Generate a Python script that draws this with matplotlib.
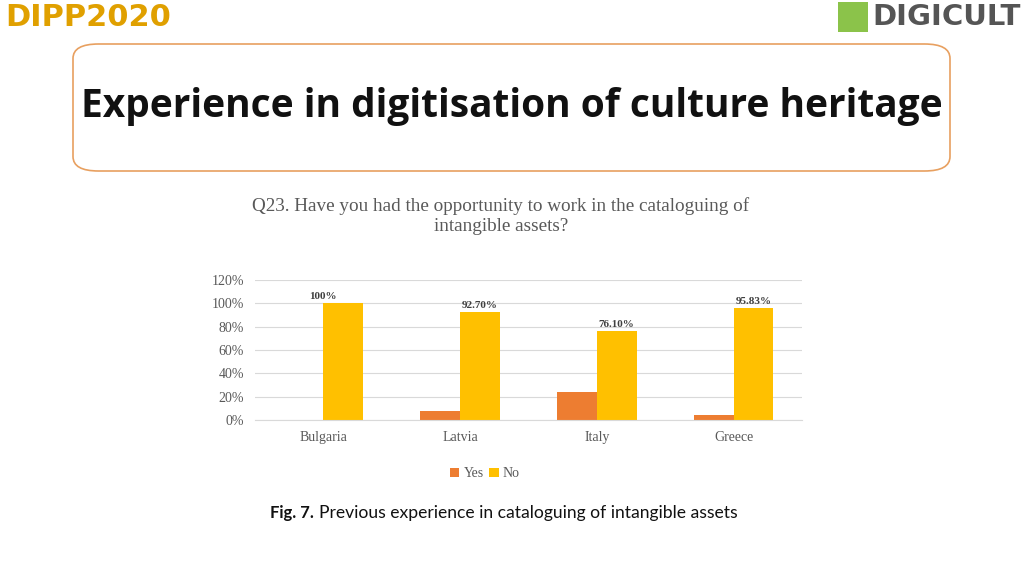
import numpy as np
import matplotlib
matplotlib.use("Agg")
import matplotlib.pyplot as plt
from matplotlib.patches import FancyBboxPatch, Rectangle

countries = ["Bulgaria", "Latvia", "Italy", "Greece"]
yes_vals = [0, 7.3, 23.9, 4.17]
no_vals = [100, 92.7, 76.1, 95.83]
no_labels = ["100%", "92.70%", "76.10%", "95.83%"]
yticks = [0, 20, 40, 60, 80, 100, 120]

fig = plt.figure(figsize=(10.24, 5.76), dpi=100)
fig.patch.set_facecolor("white")

# header box with title
box = FancyBboxPatch((73 / 1024, 1 - 171 / 576), 877 / 1024, 127 / 576,
                     boxstyle="round,pad=0,rounding_size=0.025",
                     transform=fig.transFigure, fc="white", ec="#E8A060", lw=1.2)
fig.patches.append(box)
fig.text(0.5, 1 - 106 / 576, "Experience in digitisation of culture heritage",
         ha="center", va="center", fontsize=28, fontweight="bold",
         family="Open Sans", color="#111111")

# logos as text
fig.text(0.005, 1 - 18 / 576, "DIPP2020", ha="left", va="center", fontsize=22,
         fontweight="bold", color="#E0A000", family="DejaVu Sans")
fig.patches.append(Rectangle((838 / 1024, 1 - 32 / 576), 30 / 1024, 30 / 576,
                             transform=fig.transFigure, fc="#8BC34A", ec="none"))
fig.text(872 / 1024, 1 - 17 / 576, "DIGICULT", ha="left", va="center", fontsize=21,
         fontweight="bold", color="#555555", family="DejaVu Sans")

# chart
ax = fig.add_axes([255 / 1024, 1 - 420 / 576, 547 / 1024, 140 / 576])
x = np.arange(len(countries))
w = 0.29
ax.bar(x - 0.145, yes_vals, w, color="#ED7D31", label="Yes")
ax.bar(x + 0.145, no_vals, w, color="#FFC000", label="No")
for xi, v, lab in zip(x, no_vals, no_labels):
    ax.text(xi + 0.145 - (0.15 if lab == "100%" else 0), v + 2, lab,
            ha="center", va="bottom", fontsize=8, fontweight="bold",
            family="Liberation Serif", color="#404040")
ax.set_xlim(-0.5, 3.5)
ax.set_ylim(0, 120)
ax.set_yticks(yticks)
ax.set_yticklabels([f"{t}%" for t in yticks])
ax.set_xticks(x)
ax.set_xticklabels(countries)
ax.grid(axis="y", color="#D9D9D9", lw=0.8)
ax.set_axisbelow(True)
for s in ["top", "right", "left"]:
    ax.spines[s].set_visible(False)
ax.spines["bottom"].set_color("#D9D9D9")
ax.tick_params(length=0, labelsize=10, colors="#595959", pad=8)
for t in ax.get_xticklabels() + ax.get_yticklabels():
    t.set_family("Liberation Serif")
fig.text(501 / 1024, 1 - 216 / 576,
         "Q23. Have you had the opportunity to work in the cataloguing of\nintangible assets?",
         ha="center", va="center", fontsize=13.8, family="Liberation Serif",
         color="#595959", linespacing=1.2)
ax.legend(loc="upper center", bbox_to_anchor=(0.42, -0.25), ncol=2, frameon=False,
          prop={"family": "Liberation Serif", "size": 10}, handlelength=0.7,
          handleheight=0.7, columnspacing=0.4, handletextpad=0.3, labelcolor="#595959")

fig.text(270 / 1024, 1 - 513 / 576, "Fig. 7.", ha="left", va="center", fontsize=12,
         fontweight="bold", family="Lato", color="#111111")
fig.text(319 / 1024, 1 - 513 / 576, "Previous experience in cataloguing of intangible assets",
         ha="left", va="center", fontsize=12.6, family="Lato", color="#111111")

fig.savefig("out.png", dpi=100)
